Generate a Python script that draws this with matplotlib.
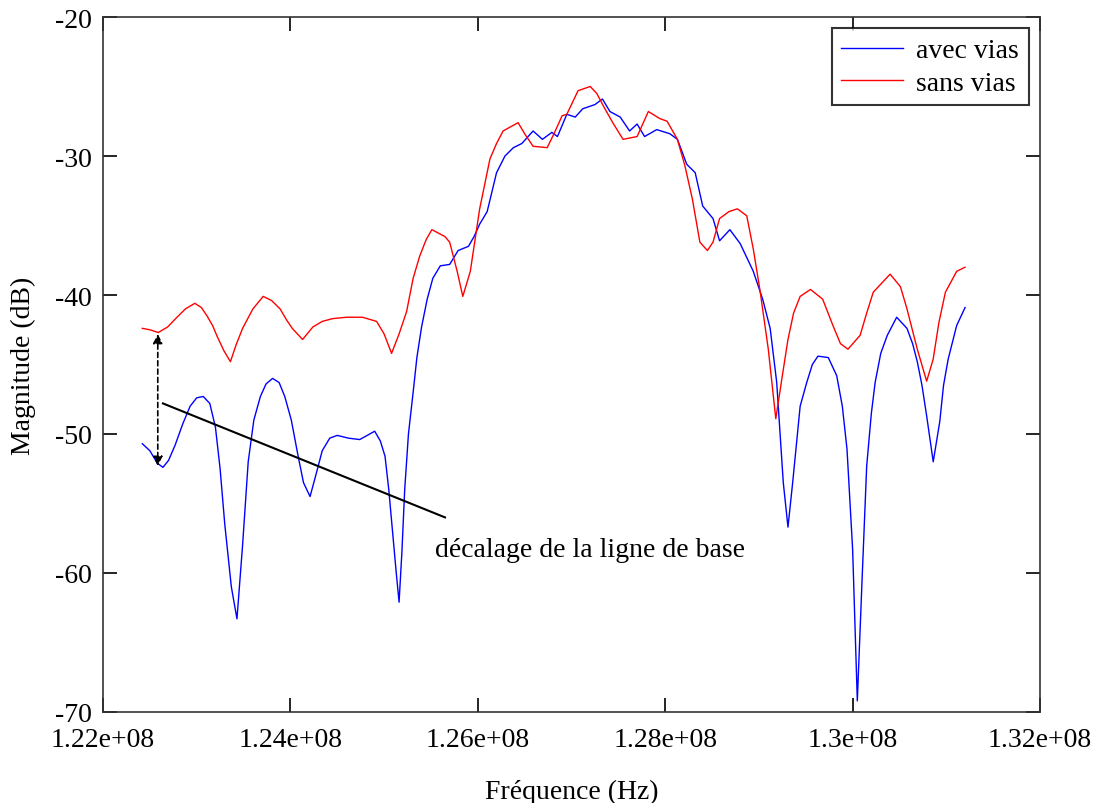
import numpy as np
import matplotlib
matplotlib.use("Agg")
import matplotlib.pyplot as plt
from matplotlib.ticker import FuncFormatter

plt.rcParams['font.family'] = ['Liberation Serif', 'DejaVu Serif']
plt.rcParams['axes.unicode_minus'] = False

# avec vias (frequency in MHz, magnitude in dB)
f_avec = [122.42, 122.50, 122.58, 122.64, 122.70, 122.77, 122.85, 122.93, 123.00, 123.07,
          123.14, 123.20, 123.25, 123.30, 123.37, 123.43, 123.49, 123.55, 123.61, 123.68,
          123.74, 123.81, 123.88, 123.94, 124.01, 124.08, 124.14, 124.21, 124.27, 124.34,
          124.42, 124.50, 124.62, 124.74, 124.82, 124.90, 124.96, 125.01, 125.05, 125.09,
          125.13, 125.16, 125.19, 125.22, 125.26, 125.31, 125.35, 125.40, 125.46, 125.52,
          125.60, 125.70, 125.79, 125.90, 125.96, 126.02, 126.10, 126.20, 126.29, 126.38,
          126.47, 126.59, 126.69, 126.79, 126.85, 126.95, 127.04, 127.12, 127.25, 127.33,
          127.41, 127.52, 127.62, 127.70, 127.78, 127.91, 128.05, 128.13, 128.23, 128.32,
          128.40, 128.51, 128.58, 128.69, 128.80, 128.94, 129.04, 129.12, 129.19, 129.26,
          129.31, 129.36, 129.44, 129.51, 129.57, 129.63, 129.74, 129.83, 129.89, 129.94,
          130.00, 130.05, 130.10, 130.15, 130.20, 130.24, 130.30, 130.37, 130.47, 130.58,
          130.64, 130.69, 130.74, 130.79, 130.86, 130.93, 130.97, 131.02, 131.11, 131.20]
db_avec = [-50.7, -51.2, -52.1, -52.4, -51.9, -50.8, -49.3, -48.0, -47.4, -47.3,
           -47.8, -49.5, -52.5, -56.5, -61.0, -63.3, -58.0, -52.0, -49.0, -47.3,
           -46.4, -46.0, -46.3, -47.3, -49.0, -51.5, -53.5, -54.5, -53.0, -51.2,
           -50.3, -50.1, -50.3, -50.4, -50.1, -49.8, -50.5, -51.6, -54.0, -57.0,
           -60.0, -62.1, -58.5, -54.0, -50.0, -47.0, -44.5, -42.3, -40.3, -38.8,
           -37.9, -37.8, -36.8, -36.5, -35.8, -34.9, -34.0, -31.2, -30.0, -29.4,
           -29.1, -28.2, -28.8, -28.3, -28.6, -27.0, -27.2, -26.6, -26.3, -25.9,
           -26.8, -27.2, -28.2, -27.7, -28.6, -28.1, -28.4, -28.8, -30.6, -31.2,
           -33.6, -34.5, -36.1, -35.3, -36.3, -38.3, -40.3, -42.4, -46.3, -53.5,
           -56.7, -53.5, -48.0, -46.3, -45.0, -44.4, -44.5, -45.8, -48.0, -51.1,
           -58.3, -69.2, -60.6, -52.3, -48.5, -46.3, -44.2, -42.9, -41.6, -42.4,
           -43.5, -44.8, -46.5, -48.7, -52.0, -49.1, -46.5, -44.6, -42.2, -40.9]

# sans vias
f_sans = [122.42, 122.50, 122.59, 122.69, 122.79, 122.88, 122.98, 123.05, 123.11, 123.17,
          123.22, 123.29, 123.36, 123.42, 123.49, 123.60, 123.71, 123.80, 123.89, 123.96,
          124.02, 124.13, 124.24, 124.34, 124.45, 124.60, 124.77, 124.92, 125.00, 125.08,
          125.16, 125.24, 125.31, 125.38, 125.45, 125.51, 125.65, 125.70, 125.78, 125.84,
          125.92, 126.02, 126.13, 126.20, 126.27, 126.43, 126.50, 126.59, 126.74, 126.82,
          126.90, 126.95, 127.07, 127.20, 127.27, 127.34, 127.44, 127.55, 127.70, 127.82,
          127.94, 128.02, 128.13, 128.21, 128.29, 128.37, 128.45, 128.51, 128.58, 128.68,
          128.77, 128.87, 128.94, 129.01, 129.10, 129.18, 129.25, 129.31, 129.37, 129.44,
          129.55, 129.68, 129.79, 129.87, 129.95, 130.08, 130.15, 130.22, 130.40, 130.51,
          130.58, 130.69, 130.79, 130.86, 130.92, 130.99, 131.11, 131.20]
db_sans = [-42.4, -42.5, -42.7, -42.3, -41.6, -41.0, -40.6, -40.9, -41.5, -42.2,
           -43.0, -44.0, -44.8, -43.6, -42.4, -41.0, -40.1, -40.4, -41.0, -41.8,
           -42.4, -43.2, -42.3, -41.9, -41.7, -41.6, -41.6, -41.9, -42.8, -44.2,
           -42.8, -41.2, -38.8, -37.2, -36.0, -35.3, -35.8, -36.2, -38.3, -40.1,
           -38.3, -33.8, -30.2, -29.1, -28.2, -27.6, -28.4, -29.3, -29.4, -28.3,
           -27.1, -27.0, -25.3, -25.0, -25.5, -26.4, -27.6, -28.8, -28.6, -26.8,
           -27.3, -27.5, -28.8, -30.7, -33.1, -36.2, -36.8, -36.2, -34.5, -34.0,
           -33.8, -34.3, -36.7, -39.6, -43.9, -48.9, -45.8, -43.2, -41.3, -40.1,
           -39.6, -40.3, -42.2, -43.5, -43.9, -42.9, -41.3, -39.8, -38.5, -39.4,
           -41.0, -43.9, -46.2, -44.6, -42.0, -39.8, -38.3, -38.0]

x_ticks = [1.22e8, 1.24e8, 1.26e8, 1.28e8, 1.30e8, 1.32e8]
y_ticks = [-70, -60, -50, -40, -30, -20]

fig = plt.figure(figsize=(11, 8.04), dpi=100)
ax = fig.add_axes([0.0936, 0.1132, 0.8519, 0.8644])

ax.plot(np.array(f_avec) * 1e6, db_avec, color='#0000ff', lw=1.0, label='avec vias')
ax.plot(np.array(f_sans) * 1e6, db_sans, color='#ff0000', lw=1.0, label='sans vias')

# annotations
ax.annotate('', xy=(122.585e6, -52.3), xytext=(122.585e6, -42.8),
            arrowprops=dict(arrowstyle='<|-|>', color='black', lw=1.2,
                            linestyle=(0, (3, 2)), mutation_scale=14,
                            shrinkA=0, shrinkB=0))
ax.plot([122.64e6, 125.65e6], [-47.8, -56.0], color='black', lw=1.5)
ax.text(125.54e6, -58.3, 'décalage de la ligne de base', fontsize=20,
        ha='left', va='center')

ax.set_xlim(1.22e8, 1.32e8)
ax.set_ylim(-70, -20)
ax.set_xticks(x_ticks)
ax.set_yticks(y_ticks)
ax.xaxis.set_major_formatter(FuncFormatter(lambda v, p: '%g' % v))
ax.tick_params(direction='in', length=10, width=1.2, top=True, right=True,
               labelsize=20, pad=8)
ax.tick_params(axis='x', pad=11)
for s in ax.spines.values():
    s.set_linewidth(1.2)
    s.set_color('#333333')

ax.set_xlabel('Fréquence (Hz)', fontsize=20, labelpad=19)
ax.set_ylabel('Magnitude (dB)', fontsize=20, labelpad=14)

leg = ax.legend(loc='upper right', fontsize=20, frameon=True, fancybox=False,
                borderpad=0.35, handlelength=2.2, handletextpad=0.5,
                labelspacing=0.25, borderaxespad=0.4)
leg.get_frame().set_edgecolor('black')
leg.get_frame().set_linewidth(1.5)

fig.savefig('out.png', dpi=100)
